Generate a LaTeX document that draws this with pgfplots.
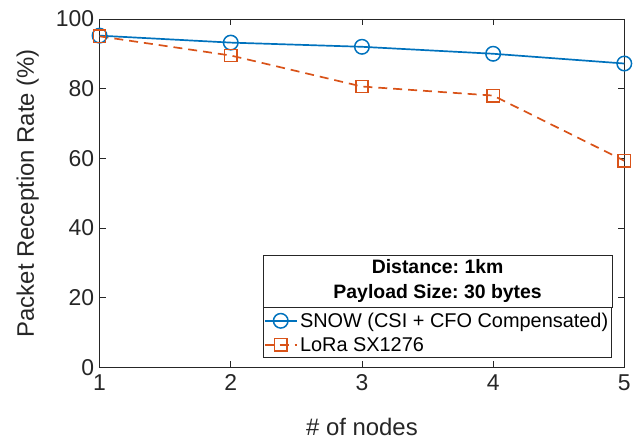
\documentclass[border=0pt]{standalone}
\usepackage{fontspec}
\setmainfont{Liberation Sans}
\frenchspacing
\usepackage{pgfplots}
\pgfplotsset{compat=1.18}
\usetikzlibrary{calc}
\definecolor{mblue}{RGB}{0,114,189}
\definecolor{morange}{RGB}{217,83,25}
\definecolor{axgray}{RGB}{38,38,38}
\begin{document}
\begin{tikzpicture}
\begin{axis}[
  scale only axis,
  width=527pt, height=350pt,
  xmin=1, xmax=5, ymin=0, ymax=100,
  xtick={1,2,3,4,5},
  ytick={0,20,40,60,80,100},
  tick align=inside,
  major tick length=6pt,
  axis line style={axgray, line width=0.6pt},
  tick style={axgray, line width=0.6pt},
  ticklabel style={font=\fontsize{23}{27}\selectfont, text=axgray},
  yticklabel style={xshift=-2pt},
  xticklabel style={yshift=-4pt},
  /pgf/number format/assume math mode=true,
  xlabel={\# of nodes},
  ylabel={Packet Reception Rate (\%)},
  every axis x label/.style={at={(axis description cs:0.5,-0.172)}, anchor=center,
    font=\fontsize{24}{28}\selectfont, text=axgray},
  every axis y label/.style={at={(axis description cs:-0.137,0.5)}, anchor=center, rotate=90,
    font=\fontsize{24}{28}\selectfont, text=axgray},
  legend cell align=left,
  legend style={name=lgd, at={(rel axis cs:0.9765,0.027)}, anchor=south east,
    draw=axgray, line width=0.6pt, font=\fontsize{20}{23}\selectfont,
    inner sep=1pt, row sep=0pt, minimum width=0pt,
    nodes={inner xsep=2.5pt, inner ysep=4.2pt}},
  legend image code/.code={
    \draw[mark repeat=2,mark phase=2] plot coordinates {(0pt,0pt) (16pt,0pt) (32pt,0pt)};},
]
\addplot[mblue, line width=1.7pt, mark=o, mark size=7.3pt, mark options={solid, line width=1.5pt}]
  coordinates {(1,95.2) (2,93.2) (3,92.0) (4,90.0) (5,87.2)};
\addlegendentry{SNOW (CSI + CFO Compensated)}
\addplot[morange, line width=1.7pt, dash pattern=on 9pt off 6pt, mark=square, mark size=6.2pt, mark options={solid, line width=1.5pt}]
  coordinates {(1,95.0) (2,89.5) (3,80.6) (4,78.0) (5,59.3)};
\addlegendentry{LoRa SX1276}
\end{axis}
\path let \p1=(lgd.north west), \p2=(lgd.north east) in
  node[draw=axgray, line width=0.6pt, anchor=south west, inner sep=0pt,
       minimum width=\x2-\x1, minimum height=52pt, align=center,
       font=\fontsize{19.5}{25}\selectfont\bfseries, text=black]
  at (lgd.north west) {Distance: 1km\\Payload Size: 30 bytes};
\path ($(current axis.south west)+(-100pt,-74pt)$) rectangle ($(current axis.north east)+(7pt,19pt)$);
\end{tikzpicture}
\end{document}
